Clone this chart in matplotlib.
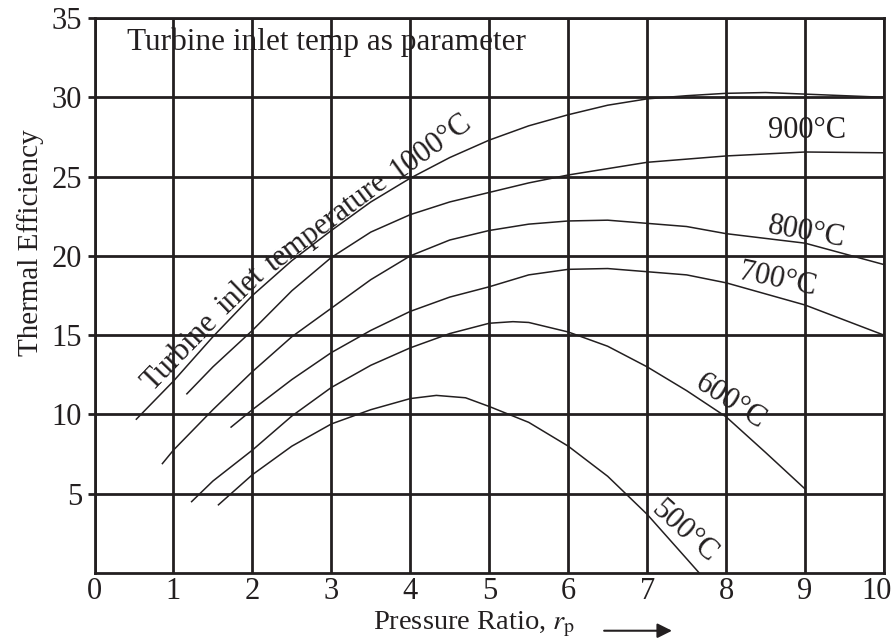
import numpy as np
import matplotlib
matplotlib.use('Agg')
import matplotlib.pyplot as plt
from matplotlib.transforms import offset_copy

# 読み取った曲線データ (圧力比, 熱効率)
x1000 = [0.53, 1.0, 1.5, 2.0, 2.5, 3.0, 3.5, 4.0, 4.5, 5.0, 5.5, 6.0, 6.5, 7.0, 7.5, 8.0, 8.5, 9.0, 9.5, 10.0]
y1000 = [9.7, 12.1, 14.9, 17.5, 19.7, 21.6, 23.4, 24.9, 26.2, 27.3, 28.2, 28.9, 29.5, 29.9, 30.1, 30.25, 30.3, 30.2, 30.1, 30.0]

x900 = [1.17, 1.5, 2.0, 2.5, 3.0, 3.5, 4.0, 4.5, 5.0, 5.5, 6.0, 6.5, 7.0, 7.5, 8.0, 9.0, 10.0]
y900 = [11.3, 13.0, 15.3, 17.8, 19.9, 21.5, 22.6, 23.4, 24.0, 24.6, 25.1, 25.5, 25.9, 26.1, 26.3, 26.55, 26.5]

x800 = [0.86, 1.0, 1.5, 2.0, 2.5, 3.0, 3.5, 4.0, 4.5, 5.0, 5.5, 6.0, 6.5, 7.0, 7.5, 8.0, 9.0, 10.0]
y800 = [6.9, 7.75, 10.3, 12.7, 14.9, 16.7, 18.5, 20.0, 21.0, 21.6, 22.0, 22.2, 22.25, 22.05, 21.85, 21.4, 20.8, 19.45]

x700 = [1.73, 2.0, 2.5, 3.0, 3.5, 4.0, 4.5, 5.0, 5.5, 6.0, 6.5, 7.0, 7.5, 8.0, 9.0, 10.0]
y700 = [9.2, 10.3, 12.2, 13.9, 15.3, 16.5, 17.4, 18.05, 18.8, 19.15, 19.2, 19.0, 18.8, 18.3, 16.9, 15.0]

x600 = [1.23, 1.5, 2.0, 2.5, 3.0, 3.5, 4.0, 4.5, 5.0, 5.3, 5.5, 6.0, 6.5, 7.0, 7.5, 8.0, 8.5, 9.0]
y600 = [4.5, 5.8, 7.75, 9.9, 11.7, 13.1, 14.2, 15.1, 15.75, 15.85, 15.8, 15.2, 14.3, 13.0, 11.5, 9.85, 7.6, 5.3]

x500 = [1.57, 2.0, 2.5, 3.0, 3.5, 4.0, 4.33, 4.7, 5.0, 5.5, 6.0, 6.5, 7.0, 7.5, 7.66]
y500 = [4.3, 6.2, 8.0, 9.4, 10.3, 11.0, 11.2, 11.05, 10.5, 9.5, 8.0, 6.1, 3.7, 0.9, 0.0]

xticks = list(range(0, 11))
yticks = [5, 10, 15, 20, 25, 30, 35]

# 曲線ラベル (文字, x, y, 回転)
labels = [("900°C", 9.02, 27.9, 0),
          ("800°C", 9.02, 21.5, -10),
          ("700°C", 8.65, 18.5, -12),
          ("600°C", 8.05, 10.8, -33),
          ("500°C", 7.47, 2.6, -42)]
# 1000°C 曲線に沿った文字
words = [("Turbine", 1.08, 13.9, 46),
         ("inlet", 1.85, 17.8, 44),
         ("temperature", 2.94, 22.1, 37),
         ("1000°C", 4.26, 26.9, 36)]

plt.rcParams['font.family'] = ['Liberation Serif', 'DejaVu Serif']
plt.rcParams['mathtext.fontset'] = 'stix'
fs = 22
ink = '#231f20'

fig = plt.figure(figsize=(8.92, 6.42), dpi=100, facecolor='white')
ax = fig.add_axes([94.5 / 892, 1 - 573 / 642, (884 - 94.5) / 892, (573 - 18) / 642])

for xv, yv in [(x1000, y1000), (x900, y900), (x800, y800),
               (x700, y700), (x600, y600), (x500, y500)]:
    ax.plot(xv, yv, color=ink, lw=1.1, zorder=3)

ax.set_xlim(0, 10)
ax.set_ylim(0, 35)
ax.set_xticks(xticks)
ax.set_yticks(yticks)
ax.grid(True, color=ink, lw=2.0)
for s in ax.spines.values():
    s.set_color(ink)
    s.set_linewidth(2.0)
ax.tick_params(axis='x', length=0, pad=3, labelsize=fs, colors=ink)
ax.tick_params(axis='y', length=5, width=2, pad=4, labelsize=fs, colors=ink)

# 右端の "10" を少し内側へ
last = ax.get_xticklabels()[-1]
last.set_transform(offset_copy(last.get_transform(), fig=fig, x=-7, y=0, units='dots'))

ax.set_ylabel("Thermal Efficiency", fontsize=21, color=ink)
ax.yaxis.set_label_coords(-0.064, 0.595)

ax.text(0.353, -0.092, r"Pressure Ratio, $r_\mathrm{p}$", transform=ax.transAxes,
        fontsize=20.5, color=ink, ha='left', va='center')
ax.annotate("", xy=(0.735, -0.104), xytext=(0.642, -0.104), xycoords='axes fraction',
            arrowprops=dict(arrowstyle='-|>', color=ink, lw=1.5, mutation_scale=22),
            annotation_clip=False)

ax.text(0.41, 33.0, "Turbine inlet temp as parameter", fontsize=22.5, color=ink,
        ha='left', va='baseline', zorder=4)

for t, tx, ty, r in labels + words:
    ax.text(tx, ty, t, fontsize=fs, color=ink, rotation=r, rotation_mode='anchor',
            ha='center', va='center', zorder=4)

fig.savefig('out.png', dpi=100, facecolor='white')
